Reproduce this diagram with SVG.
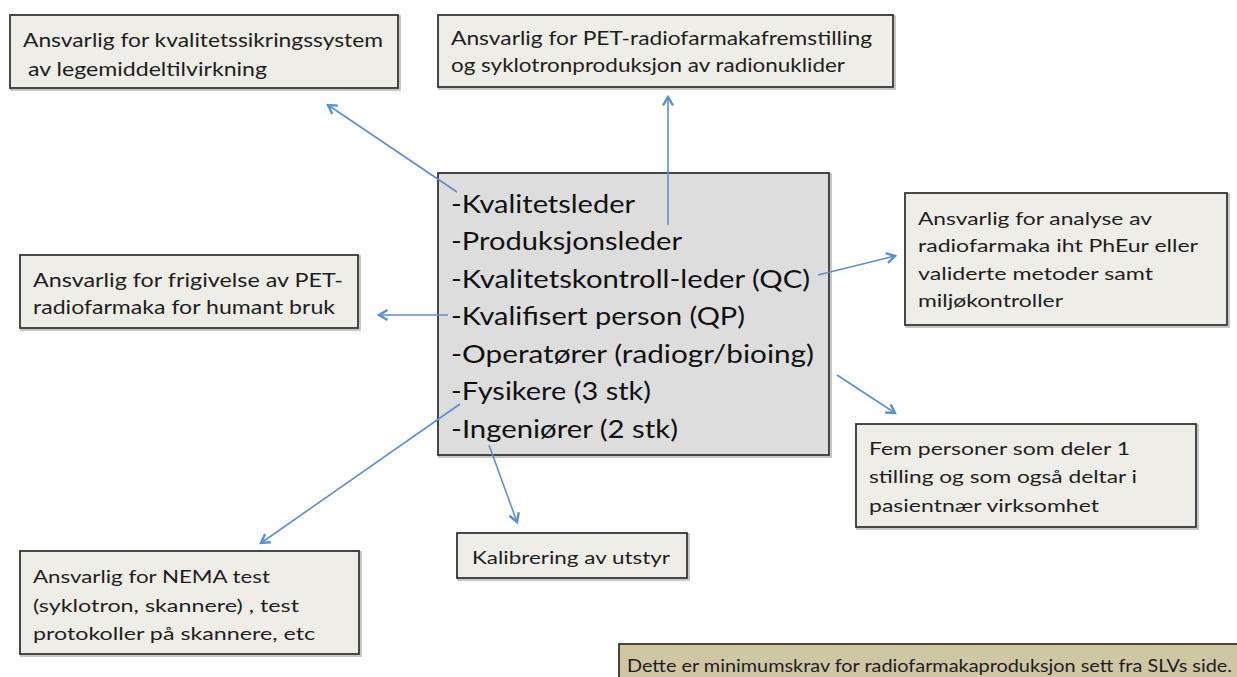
<svg xmlns="http://www.w3.org/2000/svg" width="1237" height="677" viewBox="0 0 1237 677">
  <style>
    .box { fill: #eeede7; stroke: #353535; stroke-width: 1.8; }
    .hub { fill: #dddddd; stroke: #353535; stroke-width: 1.8; }
    .note { fill: #cfc6a4; stroke: #353535; stroke-width: 1.8; }
    .shadow { fill: none; stroke: #b5b5b5; stroke-width: 1.5; }
    text { font-family: Lato, "Open Sans", "Liberation Sans", sans-serif; fill: #1e1e1e; }
    .t { font-size: 19px; }
    .s { font-size: 18px; }
    .big { font-size: 25px; fill: #111111; }
    .conn { fill: none; stroke: #5b8fcf; stroke-width: 1.6; }
  </style>
  <defs>
    <marker id="arrow" viewBox="0 0 12 12" refX="10" refY="6" markerWidth="12" markerHeight="12" markerUnits="userSpaceOnUse" orient="auto">
      <path d="M1.5,1 L10,6 L1.5,11" fill="none" stroke="#5b8fcf" stroke-width="2.4" stroke-linejoin="miter"/>
    </marker>
  </defs>

  <rect width="1237" height="677" fill="#ffffff"/>

  <!-- quality assurance responsibility -->
  <g id="node-qa">
    <rect class="shadow" x="11" y="16" width="389" height="74"/>
    <rect class="box" x="10" y="15" width="388" height="73"/>
    <text class="t" x="23" y="47" textLength="360" lengthAdjust="spacingAndGlyphs">Ansvarlig for kvalitetssikringssystem</text>
    <text class="t" x="28" y="76" textLength="239" lengthAdjust="spacingAndGlyphs">av legemiddeltilvirkning</text>
  </g>

  <!-- production responsibility -->
  <g id="node-production">
    <rect class="shadow" x="439" y="16" width="456" height="73"/>
    <rect class="box" x="438" y="15" width="455" height="72"/>
    <text class="t" x="451" y="45" textLength="421" lengthAdjust="spacingAndGlyphs">Ansvarlig for PET-radiofarmakafremstilling</text>
    <text class="t" x="451" y="72" textLength="394" lengthAdjust="spacingAndGlyphs">og syklotronproduksjon av radionuklider</text>
  </g>

  <!-- central staffing list -->
  <g id="node-staff">
    <rect class="shadow" x="439" y="174" width="392" height="283"/>
    <rect class="hub" x="438" y="173" width="391" height="282"/>
    <text class="big" x="451" y="213" textLength="184" lengthAdjust="spacingAndGlyphs">-Kvalitetsleder</text>
    <text class="big" x="451" y="250" textLength="231" lengthAdjust="spacingAndGlyphs">-Produksjonsleder</text>
    <text class="big" x="451" y="288" textLength="359" lengthAdjust="spacingAndGlyphs">-Kvalitetskontroll-leder (QC)</text>
    <text class="big" x="451" y="325" textLength="294" lengthAdjust="spacingAndGlyphs">-Kvalifisert person (QP)</text>
    <text class="big" x="451" y="363" textLength="363" lengthAdjust="spacingAndGlyphs">-Operatører (radiogr/bioing)</text>
    <text class="big" x="451" y="400" textLength="200" lengthAdjust="spacingAndGlyphs">-Fysikere (3 stk)</text>
    <text class="big" x="451" y="438" textLength="227" lengthAdjust="spacingAndGlyphs">-Ingeniører (2 stk)</text>
  </g>

  <!-- release responsibility -->
  <g id="node-release">
    <rect class="shadow" x="21" y="256" width="339" height="74"/>
    <rect class="box" x="20" y="255" width="338" height="73"/>
    <text class="t" x="33" y="287" textLength="310" lengthAdjust="spacingAndGlyphs">Ansvarlig for frigivelse av PET-</text>
    <text class="t" x="33" y="314" textLength="302" lengthAdjust="spacingAndGlyphs">radiofarmaka for humant bruk</text>
  </g>

  <!-- analysis responsibility -->
  <g id="node-analysis">
    <rect class="shadow" x="906" y="194" width="323" height="133"/>
    <rect class="box" x="905" y="193" width="322" height="132"/>
    <text class="s" x="918" y="225" textLength="234" lengthAdjust="spacingAndGlyphs">Ansvarlig for analyse av</text>
    <text class="s" x="918" y="252" textLength="280" lengthAdjust="spacingAndGlyphs">radiofarmaka iht PhEur eller</text>
    <text class="s" x="918" y="280" textLength="235" lengthAdjust="spacingAndGlyphs">validerte metoder samt</text>
    <text class="s" x="918" y="307" textLength="145" lengthAdjust="spacingAndGlyphs">miljøkontroller</text>
  </g>

  <!-- shared operator positions -->
  <g id="node-operators">
    <rect class="shadow" x="857" y="425" width="341" height="104"/>
    <rect class="box" x="856" y="424" width="340" height="103"/>
    <text class="s" x="869" y="455" textLength="261" lengthAdjust="spacingAndGlyphs">Fem personer som deler 1</text>
    <text class="s" x="869" y="483" textLength="268" lengthAdjust="spacingAndGlyphs">stilling og som også deltar i</text>
    <text class="s" x="869" y="512" textLength="230" lengthAdjust="spacingAndGlyphs">pasientnær virksomhet</text>
  </g>

  <!-- NEMA testing responsibility -->
  <g id="node-nema">
    <rect class="shadow" x="21" y="552" width="340" height="104"/>
    <rect class="box" x="20" y="551" width="339" height="103"/>
    <text class="s" x="33" y="583" textLength="237" lengthAdjust="spacingAndGlyphs">Ansvarlig for NEMA test</text>
    <text class="s" x="33" y="612" textLength="266" lengthAdjust="spacingAndGlyphs">(syklotron, skannere) , test</text>
    <text class="s" x="33" y="640" textLength="282" lengthAdjust="spacingAndGlyphs">protokoller på skannere, etc</text>
  </g>

  <!-- calibration -->
  <g id="node-calibration">
    <rect class="shadow" x="458" y="534" width="231" height="46"/>
    <rect class="box" x="457" y="533" width="230" height="45"/>
    <text class="s" x="472" y="564" textLength="198" lengthAdjust="spacingAndGlyphs">Kalibrering av utstyr</text>
  </g>

  <!-- footnote -->
  <g id="node-footnote">
    <rect class="note" x="619" y="644" width="630" height="45"/>
    <text x="627" y="672" font-size="17" textLength="605" lengthAdjust="spacingAndGlyphs">Dette er minimumskrav for radiofarmakaproduksjon sett fra SLVs side.</text>
  </g>

  <!-- connectors -->
  <g id="connectors">
    <line class="conn" x1="457" y1="192" x2="328" y2="105" marker-end="url(#arrow)"/>
    <line class="conn" x1="668" y1="225" x2="668" y2="97" marker-end="url(#arrow)"/>
    <line class="conn" x1="818" y1="275" x2="895" y2="256" marker-end="url(#arrow)"/>
    <line class="conn" x1="448" y1="315" x2="379" y2="315" marker-end="url(#arrow)"/>
    <line class="conn" x1="837" y1="375" x2="895" y2="413" marker-end="url(#arrow)"/>
    <line class="conn" x1="460" y1="404" x2="261" y2="543" marker-end="url(#arrow)"/>
    <line class="conn" x1="489" y1="445" x2="517" y2="522" marker-end="url(#arrow)"/>
  </g>
</svg>
